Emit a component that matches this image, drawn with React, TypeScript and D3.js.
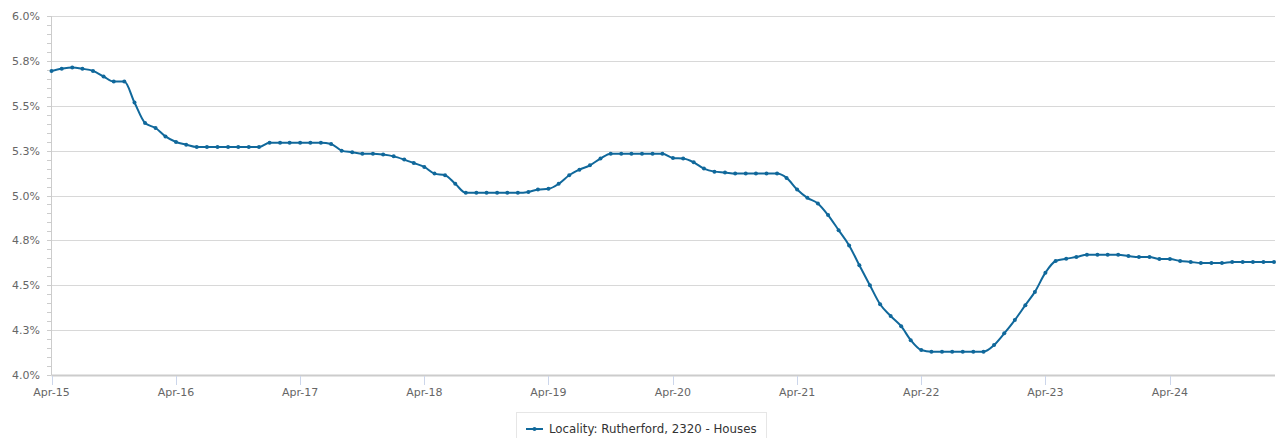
import React from "react";
import * as d3 from "d3";

const seriesName = "Locality: Rutherford, 2320 - Houses";
const startMonth = new Date(2015, 3, 1); // Apr-15
const values: number[] = [
  5.694, 5.706, 5.713, 5.706, 5.694, 5.663, 5.635, 5.635, 5.518, 5.404,
  5.376, 5.329, 5.298, 5.283, 5.27, 5.27, 5.27, 5.27, 5.27, 5.27,
  5.27, 5.294, 5.294, 5.294, 5.294, 5.294, 5.294, 5.287, 5.25, 5.241,
  5.233, 5.233, 5.228, 5.218, 5.2, 5.181, 5.159, 5.122, 5.113, 5.065,
  5.015, 5.015, 5.015, 5.015, 5.015, 5.015, 5.02, 5.033, 5.037, 5.065,
  5.113, 5.144, 5.168, 5.206, 5.233, 5.233, 5.233, 5.233, 5.233, 5.233,
  5.209, 5.206, 5.185, 5.15, 5.133, 5.128, 5.122, 5.122, 5.122, 5.122,
  5.122, 5.098, 5.033, 4.987, 4.956, 4.891, 4.807, 4.722, 4.611, 4.5,
  4.394, 4.329, 4.272, 4.194, 4.139, 4.13, 4.13, 4.13, 4.13, 4.13,
  4.13, 4.167, 4.232, 4.306, 4.389, 4.463, 4.57, 4.635, 4.648, 4.657,
  4.67, 4.67, 4.67, 4.67, 4.663, 4.657, 4.657, 4.646, 4.646, 4.635,
  4.63, 4.624, 4.624, 4.624, 4.63, 4.63, 4.63, 4.63, 4.63,
];
const yTicks: number[] = [4.0, 4.25, 4.5, 4.75, 5.0, 5.25, 5.5, 5.75, 6.0];
const yTickLabels: string[] = ["4.0%", "4.3%", "4.5%", "4.8%", "5.0%", "5.3%", "5.5%", "5.8%", "6.0%"];
const xTickLabels: string[] = ["Apr-15", "Apr-16", "Apr-17", "Apr-18", "Apr-19", "Apr-20", "Apr-21", "Apr-22", "Apr-23", "Apr-24"];

const W = 1276;
const H = 438;
const FONT = "'DejaVu Sans', sans-serif";
const LINE = "#10689b";

export default function App() {
  const dates = values.map((_, i) => d3.timeMonth.offset(startMonth, i));
  const data = values.map((v, i) => ({ date: dates[i], v }));
  const x = d3.scaleTime().domain([dates[0], dates[dates.length - 1]]).range([51.5, 1274]);
  const y = d3.scaleLinear().domain([4, 6]).range([375, 16]);
  const line = d3
    .line<{ date: Date; v: number }>()
    .x((d) => x(d.date))
    .y((d) => y(d.v))
    .curve(d3.curveMonotoneX);
  const minor = d3.range(0, 41).map((k) => 4 + k * 0.05);
  const xTickDates = xTickLabels.map((_, i) => d3.timeYear.offset(startMonth, i));

  return (
    <svg
      width={W}
      height={H}
      style={{ position: "absolute", left: 0, top: 0, background: "#fff" }}
      fontFamily={FONT}
    >
      {yTicks.map((t, i) =>
        i === 0 ? null : (
          <line key={"g" + i} x1={51.5} x2={1275} y1={Math.round(y(t)) + 0.5} y2={Math.round(y(t)) + 0.5} stroke="#d8d8d8" strokeWidth={1} />
        )
      )}
      <line x1={51.5} x2={51.5} y1={16} y2={375} stroke="#cccccc" strokeWidth={1} />
      {minor.map((t, i) => (
        <line key={"m" + i} x1={47} x2={51.5} y1={Math.round(y(t)) + 0.5} y2={Math.round(y(t)) + 0.5} stroke="#cccccc" strokeWidth={1} />
      ))}
      {yTicks.map((t, i) => (
        <text key={"yl" + i} x={40} y={y(t) + 4} textAnchor="end" fontSize={11} fill="#666666">
          {yTickLabels[i]}
        </text>
      ))}
      <line x1={51.5} x2={1275} y1={375.5} y2={375.5} stroke="#cccccc" strokeWidth={2} />
      {xTickDates.map((d, i) => (
        <g key={"xt" + i}>
          <line x1={Math.round(x(d)) + 0.5} x2={Math.round(x(d)) + 0.5} y1={376} y2={385} stroke="#ccd6eb" strokeWidth={1} />
          <text x={x(d)} y={395.5} textAnchor="middle" fontSize={11} fill="#666666">
            {xTickLabels[i]}
          </text>
        </g>
      ))}
      <path d={line(data) || ""} fill="none" stroke={LINE} strokeWidth={2} strokeLinejoin="round" strokeLinecap="round" />
      {data.map((d, i) => (
        <circle key={"p" + i} cx={x(d.date)} cy={y(d.v)} r={2} fill={LINE} />
      ))}
      <rect x={516.5} y={412.5} width={250} height={40} fill="#ffffff" stroke="#e6e6e6" strokeWidth={1} />
      <line x1={526} x2={543} y1={429} y2={429} stroke={LINE} strokeWidth={2} />
      <circle cx={534.5} cy={429} r={2} fill={LINE} />
      <text x={549} y={433} fontSize={11.8} fill="#333333">
        {seriesName}
      </text>
    </svg>
  );
}
